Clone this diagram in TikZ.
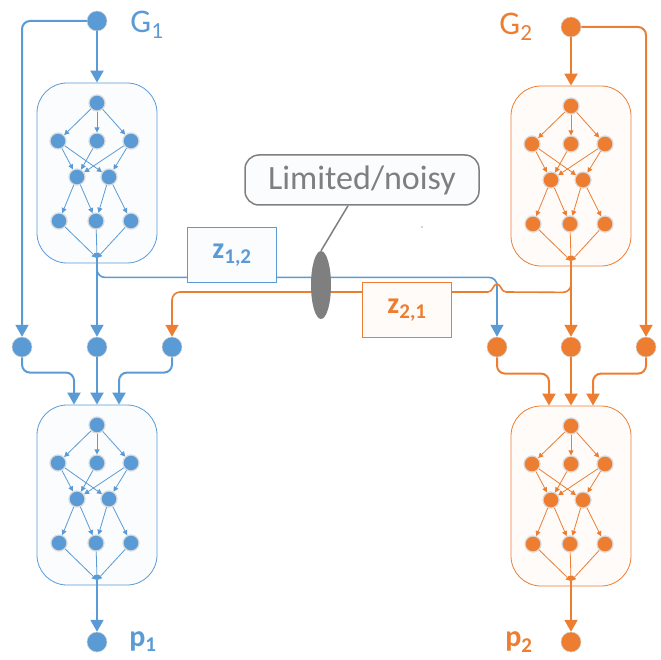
\documentclass[tikz,border=0pt]{standalone}
\usepackage{fontspec}
\setmainfont{Carlito}
\usetikzlibrary{arrows.meta,shapes.geometric}
\definecolor{blueC}{HTML}{5B9BD5}
\definecolor{orangeC}{HTML}{ED7D31}
\definecolor{grayC}{HTML}{7F7F7F}
\tikzset{
  netbox/.style={rectangle,rounded corners=30pt,minimum width=120pt,minimum height=180pt,line width=0.8pt},
  innerdot/.style={circle,minimum size=16pt,inner sep=0pt,draw=gray!30,line width=1.2pt},
  dot/.style={circle,minimum size=20pt,inner sep=0pt,draw=gray!35,line width=0.5pt},
  inedge/.style={line width=0.8pt,-{Triangle[length=5pt,width=5pt]}},
  flow/.style={line width=2pt,-{Triangle[length=12pt,width=13pt]}},
  link/.style={line width=1.6pt,rounded corners=8pt},
  tip/.style={-{Triangle[length=12pt,width=13pt]}},
  zbox/.style={rectangle,line width=1.6pt,minimum width=89pt,minimum height=55pt,font=\fontsize{30}{30}\selectfont\bfseries},
  lbl/.style={font=\fontsize{33}{33}\selectfont},
}
% one small network inside a rounded box: prefix, x, top y, colour
\newcommand{\dagnet}[4]{%
  \node[netbox,draw=#4,fill=#4!3] (#1box) at (#2,#3+90) {};
  \node[innerdot,fill=#4] (#1t) at (#2,#3+20) {};
  \node[innerdot,fill=#4] (#1a) at (#2-39,#3+58) {};
  \node[innerdot,fill=#4] (#1b) at (#2,#3+58) {};
  \node[innerdot,fill=#4] (#1c) at (#2+34,#3+58) {};
  \node[innerdot,fill=#4] (#1d) at (#2-20,#3+94) {};
  \node[innerdot,fill=#4] (#1e) at (#2+12,#3+94) {};
  \node[innerdot,fill=#4] (#1f) at (#2-38,#3+138) {};
  \node[innerdot,fill=#4] (#1g) at (#2-1,#3+138) {};
  \node[innerdot,fill=#4] (#1h) at (#2+34,#3+138) {};
  \coordinate (#1o) at (#2,#3+175);
  \foreach \s/\e in {t/a,t/b,t/c,a/d,a/e,b/d,c/d,c/e,d/f,d/g,e/g,e/h,f/o,g/o,h/o}
    \draw[inedge,#4] (#1\s) -- (#1\e);
}
\begin{document}
\begin{tikzpicture}[x=1pt,y=-1pt]
\useasboundingbox (0,0) rectangle (660,660);
% the four networks
\dagnet{bA}{97}{83}{blueC}
\dagnet{bB}{97}{405}{blueC}
\dagnet{oA}{571}{86}{orangeC}
\dagnet{oB}{571}{406}{orangeC}

% sources, inputs and outputs
\node[dot,fill=blueC] (g1) at (97,21) {};
\node[lbl,text=blueC] (g1lbl) at (147,25) {G\textsubscript{1}};
\node[dot,fill=orangeC] (g2) at (571,27) {};
\node[lbl,text=orangeC] (g2lbl) at (516,27) {G\textsubscript{2}};
\node[dot,fill=blueC] (in1a) at (22,347) {};
\node[dot,fill=blueC] (in1b) at (97,347) {};
\node[dot,fill=blueC] (in1c) at (172,347) {};
\node[dot,fill=orangeC] (in2a) at (497,347) {};
\node[dot,fill=orangeC] (in2b) at (571,347) {};
\node[dot,fill=orangeC] (in2c) at (646,347) {};
\node[dot,fill=blueC] (p1dot) at (97,642) {};
\node[dot,fill=orangeC] (p2dot) at (571,642) {};
\node[text=blueC,font=\fontsize{30}{30}\selectfont\bfseries] (p1lbl) at (143,642) {p\textsubscript{1}};
\node[text=orangeC,font=\fontsize{30}{30}\selectfont\bfseries] (p2lbl) at (519,642) {p\textsubscript{2}};

% first stage
\draw[flow,blueC] (g1) -- (bAbox);
\draw[flow,blueC,rounded corners=8pt] (g1) -| (in1a);
\draw[flow,blueC] (bAo) -- (in1b);
\draw[flow,orangeC] (g2) -- (oAbox);
\draw[flow,orangeC,rounded corners=8pt] (g2) -| (in2c);
\draw[flow,orangeC] (oAo) -- (in2b);

% exchanged messages
\draw[link,tip,blueC] (bAo) -- ([yshift=-14pt]bAbox.south) -| (in2a);
\draw[link,orangeC] (oAo) -- ([yshift=-26pt]oAbox.south) -- (506,292);
\draw[orangeC,line width=1.6pt] (506,292) .. controls (501,292) and (501,284) .. (497,284)
  .. controls (493,284) and (493,292) .. (488,292);
\draw[link,tip,orangeC] (488,292) -| (in1c);
\node[zbox,draw=blueC,text=blueC,fill=blueC!3] (z12) at (232,255) {z\textsubscript{1,2}};
\node[zbox,draw=orangeC,text=orangeC,fill=orangeC!3] (z21) at (407,310) {z\textsubscript{2,1}};
\node[ellipse,fill=grayC,minimum width=20pt,minimum height=68pt,inner sep=0pt] (noise) at (321,285) {};
\node[draw=grayC,line width=1.5pt,rounded corners=14pt,fill=blueC!3,minimum width=234pt,minimum height=50pt,
  text=grayC,font=\fontsize{34}{34}\selectfont] (lim) at (362,180) {Limited/noisy};
\draw[grayC,line width=1.5pt] ([xshift=-14pt]lim.south) -- (noise.north);
\fill[grayC!70] (422,227) circle (0.8);

% second stage
\draw[flow,blueC,rounded corners=8pt] (in1a) |- ([xshift=-23pt,yshift=32pt]bBbox.north) -- ([xshift=-23pt]bBbox.north);
\draw[flow,blueC] (in1b) -- (bBbox);
\draw[flow,blueC,rounded corners=8pt] (in1c) |- ([xshift=22pt,yshift=32pt]bBbox.north) -- ([xshift=22pt]bBbox.north);
\draw[flow,blueC] (bBo) -- (p1dot);
\draw[flow,orangeC,rounded corners=8pt] (in2a) |- ([xshift=-22pt,yshift=32pt]oBbox.north) -- ([xshift=-22pt]oBbox.north);
\draw[flow,orangeC] (in2b) -- (oBbox);
\draw[flow,orangeC,rounded corners=8pt] (in2c) |- ([xshift=22pt,yshift=32pt]oBbox.north) -- ([xshift=22pt]oBbox.north);
\draw[flow,orangeC] (oBo) -- (p2dot);
\end{tikzpicture}
\end{document}
